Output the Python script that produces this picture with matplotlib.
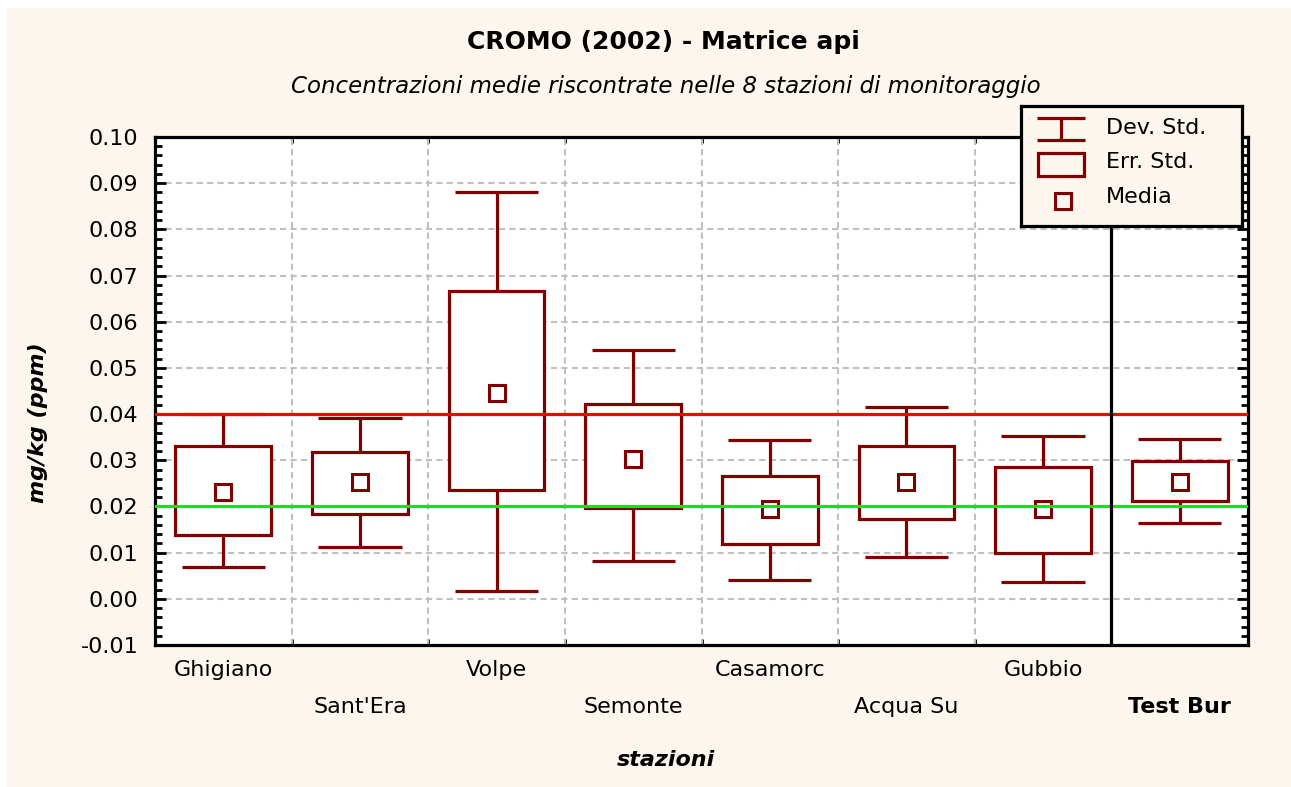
import numpy as np
import matplotlib
matplotlib.use('Agg')
import matplotlib.pyplot as plt
import matplotlib.transforms as mtransforms
from matplotlib.patches import Rectangle
from matplotlib.ticker import MultipleLocator, FixedLocator

# ---- data ----
stazioni = ['Ghigiano', "Sant'Era", 'Volpe', 'Semonte', 'Casamorc', 'Acqua Su', 'Gubbio', 'Test Bur']
media = [0.0231, 0.0252, 0.0445, 0.0302, 0.0194, 0.0252, 0.0194, 0.0252]
err_lo = [0.0139, 0.0184, 0.0236, 0.0197, 0.0119, 0.0172, 0.0100, 0.0211]
err_hi = [0.0330, 0.0318, 0.0666, 0.0422, 0.0265, 0.0330, 0.0285, 0.0298]
dev_lo = [0.0068, 0.0113, 0.0017, 0.0081, 0.0041, 0.0090, 0.0037, 0.0165]
dev_hi = [0.0400, 0.0391, 0.0880, 0.0539, 0.0344, 0.0416, 0.0352, 0.0346]
soglia_alta = 0.04
soglia_bassa = 0.02

#------------------------------------------------------------------------------------------------------------------------

plt.rcParams['font.family'] = ['DejaVu Sans']
BG = '#fdf6ef'
DR = '#800000'
FS = 16

fig = plt.figure(figsize=(12.91, 7.87), dpi=100, facecolor='white')
fig.patches.append(Rectangle((7 / 1291, 0), 1 - 7 / 1291, 1 - 8 / 787, transform=fig.transFigure,
                             facecolor=BG, edgecolor='none', zorder=-10))

ax = fig.add_axes([155 / 1291, 1 - 645 / 787, (1248 - 155) / 1291, (645 - 137) / 787])
ax.set_facecolor('white')

x = np.arange(len(stazioni))

# boxes (err. std.)
ax.bar(x, np.array(err_hi) - np.array(err_lo), bottom=err_lo, width=0.7,
       facecolor='white', edgecolor=DR, linewidth=2.3, zorder=3)
# whiskers (dev. std.)
ax.vlines(x, err_hi, dev_hi, color=DR, linewidth=2.3, zorder=3)
ax.vlines(x, dev_lo, err_lo, color=DR, linewidth=2.3, zorder=3)
ax.hlines(dev_hi, x - 0.305, x + 0.305, color=DR, linewidth=2.3, zorder=3)
ax.hlines(dev_lo, x - 0.305, x + 0.305, color=DR, linewidth=2.3, zorder=3)
# means
ax.plot(x, media, linestyle='none', marker='s', markersize=11, markerfacecolor='white',
        markeredgecolor=DR, markeredgewidth=2.2, zorder=4)

ax.axhline(soglia_alta, color='#ff0000', linewidth=2.3, zorder=5)
ax.axhline(soglia_bassa, color='#00ee00', linewidth=2.3, zorder=5)
ax.axvline(len(stazioni) - 1.5, color='black', linewidth=2.3, zorder=5)

ax.set_xlim(-0.5, len(stazioni) - 0.5)
ax.set_ylim(-0.01, 0.10)

ax.yaxis.set_major_locator(MultipleLocator(0.01))
ax.yaxis.set_minor_locator(MultipleLocator(0.002))
ax.yaxis.set_major_formatter(plt.FuncFormatter(lambda v, p: '%.2f' % v))
ax.xaxis.set_major_locator(FixedLocator(x))
ax.xaxis.set_minor_locator(FixedLocator(x[:-1] + 0.5))
ax.set_xticklabels(stazioni)

ax.grid(True, axis='y', which='major', color='#c0c0c0', linestyle=(0, (3, 2)), linewidth=1.5, zorder=1)
for b in x[:-2] + 0.5:
    ax.axvline(b, color='#c0c0c0', linestyle=(0, (3, 2)), linewidth=1.5, zorder=1)
ax.set_axisbelow(True)

ax.tick_params(axis='y', which='major', direction='in', length=8, width=2, right=True, labelsize=FS, pad=12)
ax.tick_params(axis='y', which='minor', direction='in', length=5, width=2, right=True)
ax.tick_params(axis='x', which='major', length=0, labelsize=FS, pad=11)
ax.tick_params(axis='x', which='minor', direction='in', length=4, width=2, top=True)
for s in ax.spines.values():
    s.set_linewidth(2.3)

# staggered category labels
shift = mtransforms.ScaledTranslation(0, -37 / 100, fig.dpi_scale_trans)
for i, lab in enumerate(ax.get_xticklabels()):
    if i % 2 == 1:
        lab.set_transform(lab.get_transform() + shift)
ax.get_xticklabels()[-1].set_fontweight('bold')

fig.text(663 / 1291, 1 - 42 / 787, 'CROMO (2002) - Matrice api', ha='center', va='center',
         fontsize=18, fontweight='bold')
fig.text(666 / 1291, 1 - 87 / 787, 'Concentrazioni medie riscontrate nelle 8 stazioni di monitoraggio',
         ha='center', va='center', fontsize=16.5, fontstyle='italic')
fig.text(666 / 1291, 1 - 760 / 787, 'stazioni', ha='center', va='center', fontsize=FS,
         fontweight='bold', fontstyle='italic')
fig.text(38 / 1291, 1 - 423 / 787, 'mg/kg (ppm)', ha='center', va='center', rotation=90,
         fontsize=FS, fontweight='bold', fontstyle='italic')

# legend
lg = fig.add_axes([1021 / 1291, 1 - 226 / 787, 221 / 1291, 120 / 787])
lg.set_facecolor(BG)
lg.set_xlim(1021, 1242)
lg.set_ylim(226, 106)
lg.set_xticks([])
lg.set_yticks([])
for s in lg.spines.values():
    s.set_linewidth(2.3)
lg.hlines([118, 140], 1037, 1085, color=DR, linewidth=2.3)
lg.vlines(1061, 118, 140, color=DR, linewidth=2.3)
lg.add_patch(Rectangle((1038, 153), 46, 23, facecolor='none', edgecolor=DR, linewidth=2.3))
lg.plot([1063], [201], marker='s', markersize=11, markerfacecolor='none',
        markeredgecolor=DR, markeredgewidth=2.2)
for ty, t in zip([128, 162, 197], ['Dev. Std.', 'Err. Std.', 'Media']):
    lg.text(1106, ty, t, va='center', ha='left', fontsize=FS)

fig.savefig('out.png', dpi=100, facecolor=fig.get_facecolor())
